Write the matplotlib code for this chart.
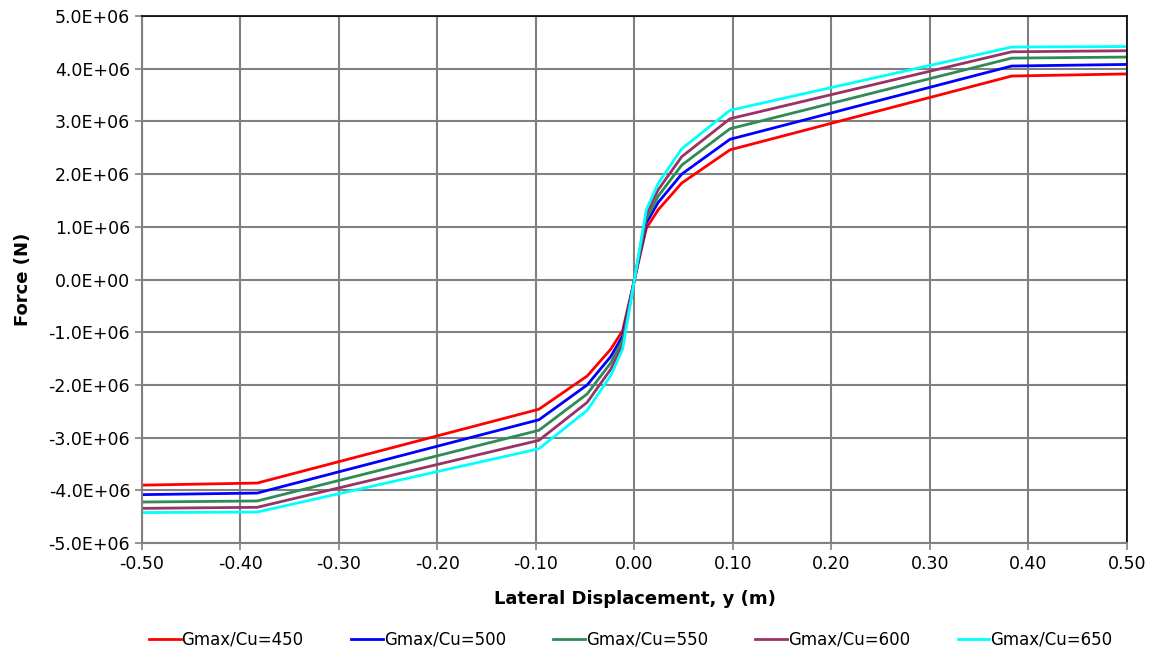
import numpy as np
import matplotlib
matplotlib.use("Agg")
import matplotlib.pyplot as plt
from matplotlib.ticker import FuncFormatter, MultipleLocator

# displacement points (m), curve is antisymmetric about the origin
y_pos = [0.0, 0.012, 0.024, 0.048, 0.097, 0.383, 0.5]

# force (x1e6 N) at the positive displacements
f_450 = [0.0, 0.97, 1.32, 1.83, 2.46, 3.86, 3.90]
f_500 = [0.0, 1.07, 1.46, 2.00, 2.66, 4.05, 4.08]
f_550 = [0.0, 1.15, 1.58, 2.17, 2.86, 4.20, 4.22]
f_600 = [0.0, 1.24, 1.70, 2.33, 3.05, 4.32, 4.34]
f_650 = [0.0, 1.32, 1.82, 2.48, 3.21, 4.41, 4.42]

labels = ["Gmax/Cu=450", "Gmax/Cu=500", "Gmax/Cu=550", "Gmax/Cu=600", "Gmax/Cu=650"]
colors = ["#FF0000", "#0000FF", "#2E8B57", "#993366", "#00FFFF"]

plt.rcParams['font.family'] = ['DejaVu Sans']

fig = plt.figure(figsize=(11.57, 6.64), dpi=100)
ax = fig.add_axes([0.1227, 0.182, 0.8513, 0.794])

yp = np.array(y_pos)
x_all = np.concatenate([-yp[::-1], yp[1:]])
for f, lab, c in zip([f_450, f_500, f_550, f_600, f_650], labels, colors):
    fp = np.array(f) * 1e6
    f_all = np.concatenate([-fp[::-1], fp[1:]])
    ax.plot(x_all, f_all, color=c, lw=2, label=lab)

ax.set_xlim(-0.5, 0.5)
ax.set_ylim(-5e6, 5e6)
ax.xaxis.set_major_locator(MultipleLocator(0.1))
ax.yaxis.set_major_locator(MultipleLocator(1e6))
ax.xaxis.set_major_formatter(FuncFormatter(lambda v, p: "%.2f" % (0 if abs(v) < 1e-9 else v)))

def sci(v, p):
    if abs(v) < 1:
        return "0.0E+00"
    s = "%.1E" % v
    return s

ax.yaxis.set_major_formatter(FuncFormatter(sci))
ax.grid(True, color="#808080", lw=1.5)
ax.set_axisbelow(True)
ax.tick_params(labelsize=12.5, length=5, width=1.2, color="#808080", direction="out")

for s in ["left", "bottom"]:
    ax.spines[s].set_color("#808080")
    ax.spines[s].set_linewidth(1.5)
for s in ["top", "right"]:
    ax.spines[s].set_color("black")
    ax.spines[s].set_linewidth(1.2)

ax.set_xlabel("Lateral Displacement, y (m)", fontsize=13, fontweight="bold", labelpad=12)
ax.set_ylabel("Force (N)", fontsize=13, fontweight="bold", labelpad=12)

fig.legend(loc="lower center", ncol=5, frameon=False, fontsize=12,
           handlelength=1.9, handletextpad=0.05, columnspacing=2.85,
           bbox_to_anchor=(0.545, 0.0))

fig.savefig("out.png", dpi=100)
